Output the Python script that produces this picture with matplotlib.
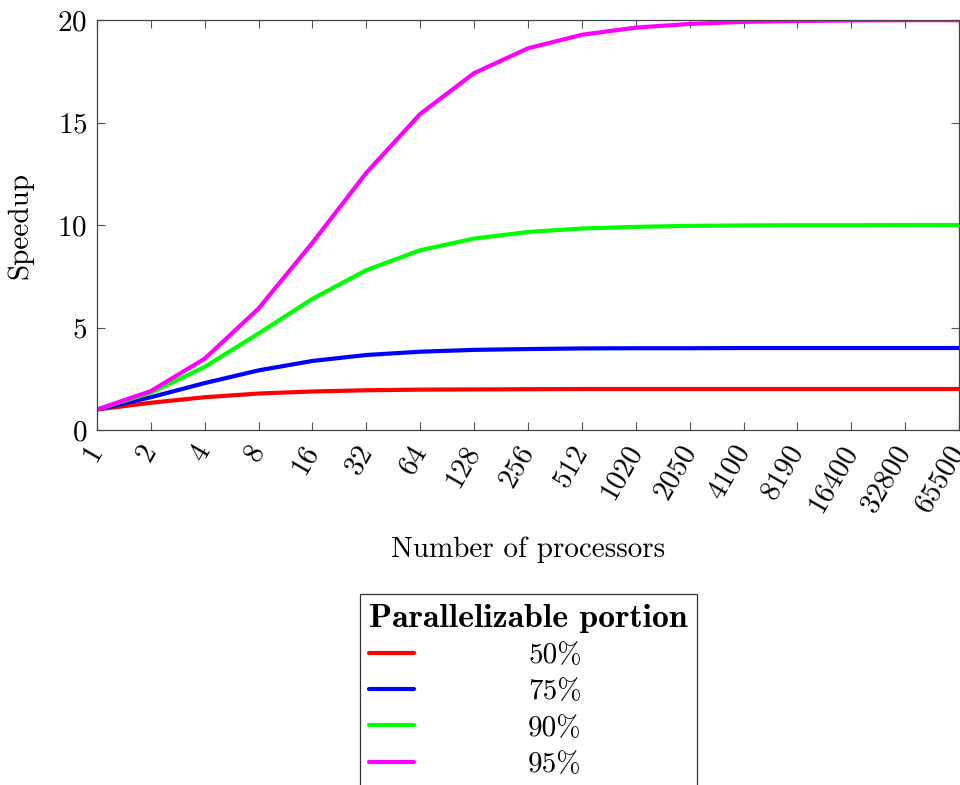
import matplotlib
matplotlib.use("Agg")
import matplotlib.pyplot as plt
from matplotlib.font_manager import FontProperties

plt.rcParams['font.family'] = ['cmr10', 'DejaVu Serif']
plt.rcParams['axes.formatter.use_mathtext'] = True

processors = ["1", "2", "4", "8", "16", "32", "64", "128", "256", "512",
              "1020", "2050", "4100", "8190", "16400", "32800", "65500"]

speedup_50 = [1.00, 1.33, 1.60, 1.78, 1.88, 1.94, 1.97, 1.98, 1.99, 2.00,
              2.00, 2.00, 2.00, 2.00, 2.00, 2.00, 2.00]
speedup_75 = [1.00, 1.60, 2.29, 2.91, 3.37, 3.66, 3.82, 3.91, 3.95, 3.98,
              3.99, 3.99, 4.00, 4.00, 4.00, 4.00, 4.00]
speedup_90 = [1.00, 1.82, 3.08, 4.71, 6.40, 7.80, 8.77, 9.34, 9.66, 9.83,
              9.91, 9.96, 9.98, 9.99, 9.99, 10.00, 10.00]
speedup_95 = [1.00, 1.90, 3.48, 5.93, 9.14, 12.55, 15.42, 17.41, 18.62, 19.28,
              19.63, 19.81, 19.91, 19.95, 19.98, 19.99, 19.99]

labels = ["50%", "75%", "90%", "95%"]
colors = ["#ff0000", "#0000ff", "#00ff00", "#ff00ff"]

FS = 21

fig = plt.figure(figsize=(9.6, 7.85), dpi=100)
ax = fig.add_axes([0.101, 0.4522, 0.898, 0.5223])

x = list(range(len(processors)))
for ys, lab, col in zip([speedup_50, speedup_75, speedup_90, speedup_95], labels, colors):
    ax.plot(x, ys, color=col, lw=3, label=lab, solid_capstyle='round')

ax.set_xlim(0, len(processors) - 1)
ax.set_ylim(0, 20)
ax.set_yticks([0, 5, 10, 15, 20])
ax.set_xticks(x)
ax.set_xticklabels(processors, rotation=60, ha='right', va='center',
                   rotation_mode='anchor')
ax.tick_params(direction='in', length=6, width=0.8, color='#555555',
               top=True, right=True, labelsize=FS)
ax.tick_params(axis='x', pad=12)
ax.tick_params(axis='y', pad=7)
for s in ax.spines.values():
    s.set_color('#444444')
    s.set_linewidth(0.9)

ax.set_ylabel("Speedup", fontsize=FS, labelpad=17)
ax.set_xlabel("Number of processors", fontsize=FS, labelpad=14)

bold = FontProperties(family='cmb10', size=24.3)
leg = fig.legend(loc='upper center', bbox_to_anchor=(0.5505, 0.2433),
                 borderaxespad=0, alignment='left',
                 title="Parallelizable portion", title_fontproperties=bold,
                 fontsize=FS, frameon=True, fancybox=False, edgecolor='black',
                 handlelength=1.55, handletextpad=3.9, labelspacing=0.34,
                 borderpad=0.33)
leg.get_frame().set_linewidth(0.9)
leg.get_title().set_horizontalalignment('center')

fig.savefig("out.png", dpi=100)
